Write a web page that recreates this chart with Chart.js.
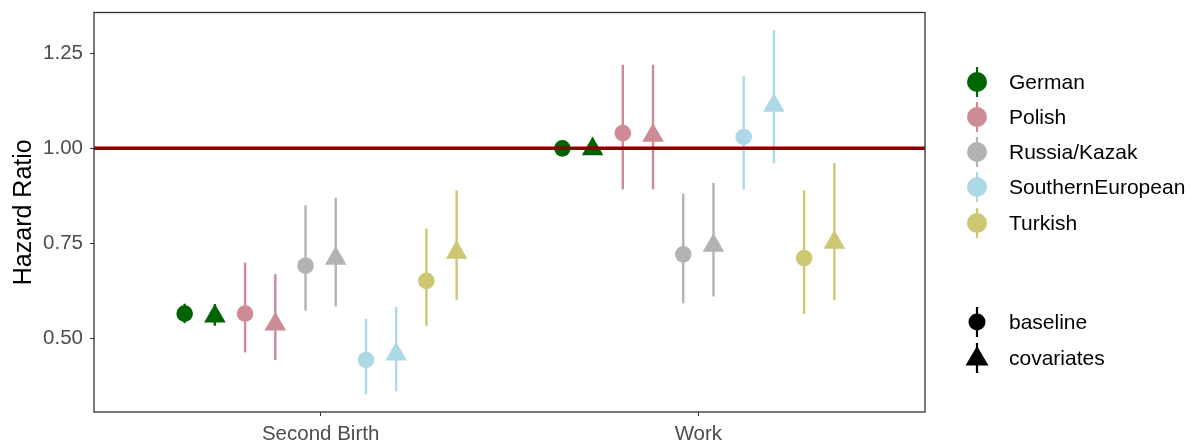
<!DOCTYPE html>
<html>
<head>
<meta charset="utf-8">
<script src="https://cdn.jsdelivr.net/npm/chart.js@4/dist/chart.umd.min.js"></script>
<style>
  html, body { margin: 0; padding: 0; background: #fff; }
  #wrap { position: relative; width: 1200px; height: 443px; font-family: "Liberation Sans", Arial, sans-serif; }
  canvas { position: absolute; left: 0; top: 0; }
  .lg { position: absolute; left: 960px; height: 30px; display: flex; align-items: center; }
  .lg svg { width: 34px; height: 34px; flex: none; }
  .lg span { margin-left: 15px; font-size: 21px; color: #000; white-space: nowrap; }
</style>
</head>
<body>
<div id="wrap">
  <canvas id="c" width="1200" height="443"></canvas>
  <div id="legend"></div>
</div>
<script>
// ---- data ----
const categories = ['Second Birth', 'Work'];
const groups = ['German', 'Polish', 'Russia/Kazak', 'SouthernEuropean', 'Turkish'];
const models = ['baseline', 'covariates'];
const groupColors = ['#006400', '#CD8C95', '#B3B3B3', '#ADD8E6', '#CDC673'];
const yTicks = [0.5, 0.75, 1.0, 1.25];

const sbBaseline   = [0.565, 0.565, 0.691, 0.443, 0.651];
const sbBaselineLo = [0.540, 0.463, 0.573, 0.352, 0.533];
const sbBaselineHi = [0.591, 0.699, 0.850, 0.551, 0.789];
const sbCov        = [0.558, 0.537, 0.710, 0.458, 0.726];
const sbCovLo      = [0.533, 0.443, 0.584, 0.361, 0.601];
const sbCovHi      = [0.590, 0.669, 0.870, 0.583, 0.889];

const workBaseline   = [1.000, 1.040, 0.721, 1.030, 0.711];
const workBaselineLo = [0.995, 0.892, 0.592, 0.892, 0.564];
const workBaselineHi = [1.005, 1.220, 0.881, 1.190, 0.889];
const workCov        = [0.998, 1.034, 0.744, 1.113, 0.752];
const workCovLo      = [0.990, 0.892, 0.610, 0.961, 0.600];
const workCovHi      = [1.010, 1.220, 0.909, 1.311, 0.961];

const refLine = 1.0;

// ---- build datasets ----
const est = [[sbBaseline, sbCov], [workBaseline, workCov]];
const lo  = [[sbBaselineLo, sbCovLo], [workBaselineLo, workCovLo]];
const hi  = [[sbBaselineHi, sbCovHi], [workBaselineHi, workCovHi]];

const datasets = [];
groups.forEach((g, gi) => {
  models.forEach((m, mi) => {
    const k = gi * 2 + mi;
    const off = -0.36 + 0.08 * k;
    datasets.push({
      label: g + ' ' + m,
      data: categories.map((c, ci) => ({ x: ci + 1 + off, y: est[ci][mi][gi], lo: lo[ci][mi][gi], hi: hi[ci][mi][gi] })),
      backgroundColor: groupColors[gi],
      borderColor: groupColors[gi],
      borderWidth: 0,
      pointStyle: mi === 0 ? 'circle' : 'triangle',
      pointRadius: mi === 0 ? 8.3 : 12.5,
      pointHoverRadius: mi === 0 ? 8.3 : 12.5,
      pointBorderWidth: 0
    });
  });
});

const errorBars = {
  id: 'errorBars',
  beforeDatasetsDraw(chart) {
    const { ctx, scales: { x, y } } = chart;
    ctx.save();
    ctx.lineWidth = 2.4;
    chart.data.datasets.forEach(ds => {
      ctx.strokeStyle = ds.borderColor;
      ds.data.forEach(p => {
        const px = x.getPixelForValue(p.x);
        ctx.beginPath();
        ctx.moveTo(px, y.getPixelForValue(p.lo));
        ctx.lineTo(px, y.getPixelForValue(p.hi));
        ctx.stroke();
      });
    });
    ctx.restore();
  }
};

const frame = {
  id: 'frame',
  afterDatasetsDraw(chart) {
    const { ctx, chartArea: a, scales: { y } } = chart;
    ctx.save();
    ctx.strokeStyle = '#8B0000';
    ctx.lineWidth = 3.5;
    const py = y.getPixelForValue(refLine);
    ctx.beginPath();
    ctx.moveTo(a.left, py);
    ctx.lineTo(a.right, py);
    ctx.stroke();
    ctx.strokeStyle = '#333333';
    ctx.lineWidth = 1.3;
    ctx.strokeRect(a.left, a.top, a.right - a.left, a.bottom - a.top);
    ctx.restore();
  }
};

new Chart(document.getElementById('c'), {
  type: 'scatter',
  data: { datasets },
  options: {
    responsive: false,
    animation: false,
    events: [],
    layout: { padding: { left: 0, right: 275, top: 11, bottom: 0 } },
    plugins: { legend: { display: false }, tooltip: { enabled: false } },
    scales: {
      x: {
        type: 'linear',
        min: 0.4, max: 2.6,
        afterBuildTicks: s => { s.ticks = [{ value: 1 }, { value: 2 }]; },
        afterFit: s => { s.height = 31; s.paddingLeft = 0; s.paddingRight = 0; },
        ticks: {
          callback: v => categories[v - 1],
          color: '#4D4D4D',
          font: { family: '"Liberation Sans", Arial, sans-serif', size: 20.5 },
          padding: 6,
          maxRotation: 0
        },
        grid: { drawOnChartArea: false, tickLength: 4, color: '#333333', lineWidth: 1 },
        border: { display: false }
      },
      y: {
        min: 0.306, max: 1.3575,
        afterBuildTicks: s => { s.ticks = yTicks.map(v => ({ value: v })); },
        afterFit: s => { s.width = 94; s.paddingTop = 0; s.paddingBottom = 0; },
        ticks: {
          callback: v => v.toFixed(2),
          color: '#4D4D4D',
          font: { family: '"Liberation Sans", Arial, sans-serif', size: 20.5 },
          padding: 7
        },
        grid: { drawOnChartArea: false, tickLength: 4, color: '#333333', lineWidth: 1 },
        border: { display: false },
        title: {
          display: true,
          text: 'Hazard Ratio',
          color: '#000',
          font: { family: '"Liberation Sans", Arial, sans-serif', size: 25 },
          padding: { top: 9, bottom: 0 }
        }
      }
    }
  },
  plugins: [errorBars, frame]
});

// ---- legend (HTML) ----
const legend = document.getElementById('legend');
const colorRowsY = [82, 117, 152, 187, 223];
groups.forEach((g, gi) => {
  const d = document.createElement('div');
  d.className = 'lg';
  d.style.top = (colorRowsY[gi] - 15) + 'px';
  d.innerHTML = '<svg viewBox="0 0 34 34"><line x1="17" y1="2" x2="17" y2="32" stroke="' + groupColors[gi] + '" stroke-width="2.2"/><circle cx="17" cy="17" r="10" fill="' + groupColors[gi] + '"/></svg><span>' + g + '</span>';
  legend.appendChild(d);
});
const shapeRowsY = [322, 358];
models.forEach((m, mi) => {
  const d = document.createElement('div');
  d.className = 'lg';
  d.style.top = (shapeRowsY[mi] - 15) + 'px';
  const shape = mi === 0
    ? '<circle cx="17" cy="17" r="8.5" fill="#000"/>'
    : '<polygon points="17,5 28.5,24.5 5.5,24.5" fill="#000"/>';
  d.innerHTML = '<svg viewBox="0 0 34 34"><line x1="17" y1="2" x2="17" y2="32" stroke="#000" stroke-width="2.2"/>' + shape + '</svg><span>' + m + '</span>';
  legend.appendChild(d);
});
</script>
</body>
</html>
